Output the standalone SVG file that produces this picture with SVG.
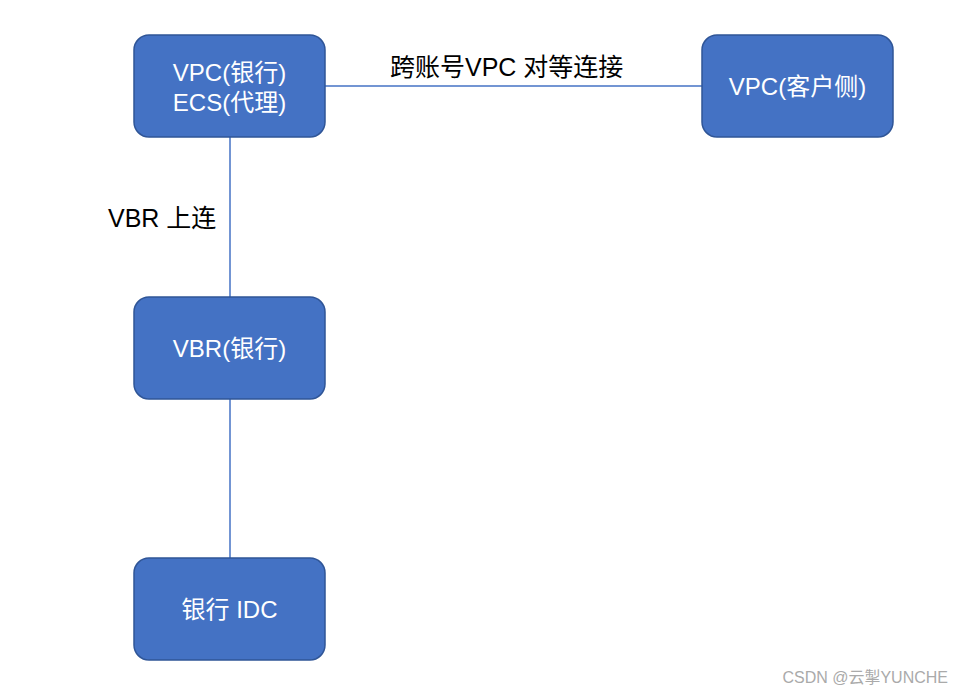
<svg xmlns="http://www.w3.org/2000/svg" width="964" height="695" viewBox="0 0 964 695">
<style>
.box{fill:#4472c4;stroke:#2f5597;stroke-width:1.5}
.t{font-family:"Liberation Sans","Noto Sans CJK SC",sans-serif;font-size:24px;fill:#fff;text-anchor:middle}
.l{font-family:"Liberation Sans","Noto Sans CJK SC",sans-serif;font-size:25px;fill:#000}
.c{stroke:#4472c4;stroke-width:1.5;fill:none}
</style>
<rect width="964" height="695" fill="#fff"/>
<g id="connectors">
<line class="c" x1="325" y1="86" x2="702" y2="86"/>
<line class="c" x1="230" y1="137" x2="230" y2="297"/>
<line class="c" x1="230" y1="399" x2="230" y2="558"/>
</g>
<g id="labels">
<text class="l" x="390" y="76">跨账号VPC 对等连接</text>
<text class="l" x="108" y="227">VBR 上连</text>
</g>
<g id="vpc-bank">
<rect class="box" x="134" y="35" width="191" height="102" rx="15"/>
<text class="t" x="229.5" y="81">VPC(银行)</text>
<text class="t" x="229.5" y="111">ECS(代理)</text>
</g>
<g id="vpc-customer">
<rect class="box" x="702" y="35" width="191" height="102" rx="15"/>
<text class="t" x="797.5" y="95">VPC(客户侧)</text>
</g>
<g id="vbr-bank">
<rect class="box" x="134" y="297" width="191" height="102" rx="15"/>
<text class="t" x="229.5" y="357">VBR(银行)</text>
</g>
<g id="bank-idc">
<rect class="box" x="134" y="558" width="191" height="102" rx="15"/>
<text class="t" x="229.5" y="618">银行 IDC</text>
</g>
<text x="948" y="683" text-anchor="end" font-family="Liberation Sans,'Noto Sans CJK SC',sans-serif" font-size="16" fill="#aaa">CSDN @云掣YUNCHE</text>
</svg>
